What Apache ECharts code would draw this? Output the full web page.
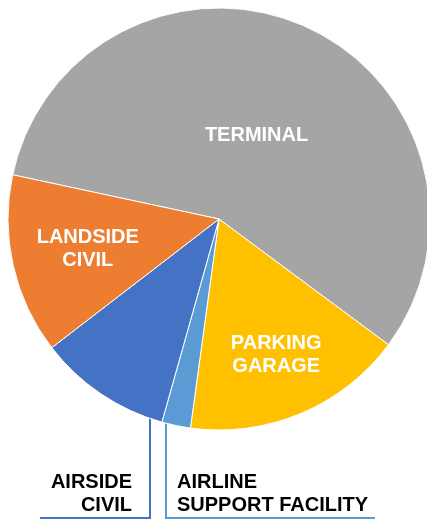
<!DOCTYPE html>
<html>
<head>
<meta charset="utf-8">
<script src="https://cdn.jsdelivr.net/npm/echarts@6/dist/echarts.min.js"></script>
<style>
  html, body { margin: 0; padding: 0; background: #fff; }
  #chart { width: 427px; height: 521px; }
</style>
</head>
<body>
<div id="chart"></div>
<script>
// slice names and shares (%), clockwise from the terminal slice
var categories = ['TERMINAL', 'PARKING\nGARAGE', 'AIRLINE\nSUPPORT FACILITY', 'AIRSIDE\nCIVIL', 'LANDSIDE\nCIVIL'];
var shares = [56.8, 17.0, 2.2, 10.2, 13.8];
var colors = ['#A5A5A5', '#FFC000', '#5B9BD5', '#4472C4', '#ED7D31'];

var CENTER = [219, 219];
var RADIUS = 211;
// how far out the inside labels sit (fraction of radius)
var insideFrac = { 0: 0.42, 1: 0.68, 4: 0.62 };

var myChart = echarts.init(document.getElementById('chart'));

var pieData = categories.map(function (name, i) {
  var outside = (i === 2 || i === 3);
  return {
    name: name,
    value: shares[i],
    itemStyle: { color: colors[i] },
    label: {
      position: outside ? 'outside' : 'inside',
      color: outside ? '#000000' : '#FFFFFF',
      align: i === 3 ? 'right' : (i === 2 ? 'left' : 'center')
    },
    labelLine: {
      show: outside,
      lineStyle: { color: colors[i], width: 2 }
    }
  };
});

// y on the circle edge (lower half) for a given x
function edgeY(x) {
  var dx = x - CENTER[0];
  return CENTER[1] + Math.sqrt(RADIUS * RADIUS - dx * dx);
}

myChart.setOption({
  animation: false,
  series: [{
    type: 'pie',
    center: CENTER,
    radius: RADIUS,
    startAngle: 167.9,
    clockwise: true,
    avoidLabelOverlap: false,
    itemStyle: {
      borderColor: '#FFFFFF',
      borderWidth: 1
    },
    label: {
      show: true,
      formatter: '{b}',
      fontFamily: '"Liberation Sans", Arial, sans-serif',
      fontWeight: 'bold',
      fontSize: 20,
      lineHeight: 23
    },
    labelLine: { smooth: false },
    labelLayout: function (params) {
      var i = params.dataIndex;
      if (i === 3) {
        return {
          x: 132, y: 494, align: 'right', verticalAlign: 'middle',
          labelLinePoints: [[150, edgeY(150)], [150, 518], [40, 518]]
        };
      }
      if (i === 2) {
        return {
          x: 177, y: 494, align: 'left', verticalAlign: 'middle',
          labelLinePoints: [[166, edgeY(166)], [166, 518], [375, 518]]
        };
      }
      var r = params.labelRect;
      var lx = r.x + r.width / 2;
      var ly = r.y + r.height / 2;
      var k = insideFrac[i] / 0.5;
      return {
        x: CENTER[0] + (lx - CENTER[0]) * k,
        y: CENTER[1] + (ly - CENTER[1]) * k,
        align: 'center',
        verticalAlign: 'middle'
      };
    },
    data: pieData
  }]
});
</script>
</body>
</html>
